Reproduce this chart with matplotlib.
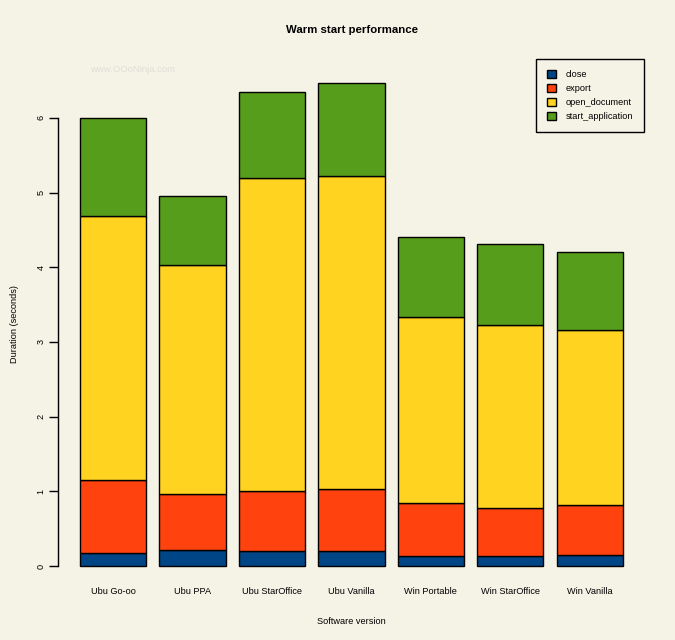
import matplotlib
matplotlib.use("Agg")
import matplotlib.pyplot as plt
import numpy as np

categories = ["Ubu Go-oo", "Ubu PPA", "Ubu StarOffice", "Ubu Vanilla",
              "Win Portable", "Win StarOffice", "Win Vanilla"]
close = [0.17, 0.21, 0.20, 0.20, 0.13, 0.13, 0.15]
export = [0.98, 0.75, 0.80, 0.83, 0.71, 0.65, 0.67]
open_document = [3.53, 3.07, 4.20, 4.19, 2.49, 2.45, 2.34]
start_application = [1.32, 0.92, 1.15, 1.25, 1.08, 1.08, 1.04]
series = [("close", close, "#004586"),
          ("export", export, "#FF420E"),
          ("open_document", open_document, "#FFD320"),
          ("start_application", start_application, "#579D1C")]
yticks = [0, 1, 2, 3, 4, 5, 6]

bg = "#F5F2E6"
plt.rcParams["font.family"] = ["Liberation Sans", "DejaVu Sans"]
fig = plt.figure(figsize=(6.75, 6.4), dpi=100, facecolor=bg)
ax = fig.add_axes([0.0864, 0.0855, 0.955 - 0.0864, 0.9008 - 0.0855])
ax.set_facecolor(bg)

n = len(categories)
x = 0.7 + 1.2 * np.arange(n)
bottom = np.zeros(n)
handles = []
for name, vals, col in series:
    v = np.array(vals)
    h = ax.bar(x, v, width=1.0, bottom=bottom, color=col, edgecolor="black",
               linewidth=1.0, label=name)
    handles.append(h)
    bottom += v

total_max = bottom.max()
ax.set_xlim(0.2 - 0.04 * 8.2, 8.4 + 0.04 * 8.2)
ax.set_ylim(-0.04 * total_max, total_max * 1.04)

for s in ["top", "right", "bottom"]:
    ax.spines[s].set_visible(False)
ax.spines["left"].set_bounds(0, 6)
ax.spines["left"].set_linewidth(1.0)
ax.set_yticks(yticks)
ax.set_yticklabels([str(t) for t in yticks], rotation=90, va="center", fontsize=6.6)
ax.tick_params(axis="y", length=6.5, width=1.0, pad=2.5)
ax.set_xticks(x)
ax.set_xticklabels(categories, fontsize=6.6)
ax.tick_params(axis="x", length=0, pad=1)

ax.set_xlabel("Software version", fontsize=6.6, labelpad=15)
ax.set_ylabel("Duration (seconds)", fontsize=6.6, labelpad=13)
fig.text(0.522, 0.953, "Warm start performance", ha="center", va="center",
         fontsize=8.2, fontweight="bold")
fig.text(0.133, 0.892, "www.OOoNinja.com", ha="left", va="center",
         fontsize=6.8, color="#E0DED6")

leg = ax.legend(handles=handles, loc="upper right",
                bbox_to_anchor=(644 / 675, 1 - 59 / 640),
                bbox_transform=fig.transFigure, fontsize=6.6, frameon=True,
                fancybox=False, edgecolor="black", facecolor=bg,
                handlelength=1.0, handleheight=0.9, borderpad=1.2,
                labelspacing=0.55, handletextpad=1.0, borderaxespad=0)
leg.get_frame().set_linewidth(1.0)
leg.get_frame().set_alpha(None)

fig.savefig("out.png", dpi=100, facecolor=bg)
